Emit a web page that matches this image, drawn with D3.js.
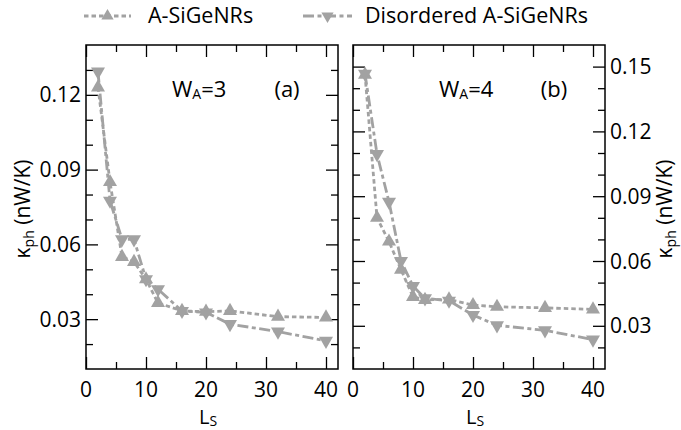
<!DOCTYPE html>
<html><head><meta charset="utf-8">
<script src="https://cdn.jsdelivr.net/npm/d3@7"></script>
<style>body{margin:0;background:#fff}text{font-family:"Open Sans",sans-serif;fill:#000}</style>
</head><body><svg id="c" width="681" height="430"></svg>
<script>
const Ls = [2,4,6,8,10,12,16,20,24,32,40];
const ordA = [0.123,0.085,0.055,0.053,0.046,0.0365,0.0333,0.033,0.0333,0.031,0.0307];
const disA = [0.1293,0.0775,0.062,0.062,0.046,0.042,0.0333,0.0327,0.028,0.025,0.0213];
const ordB = [0.1463,0.080,0.069,0.056,0.0434,0.042,0.0422,0.0396,0.0388,0.0383,0.0376];
const disB = [0.1467,0.1095,0.0874,0.060,0.0484,0.0427,0.0416,0.035,0.0302,0.0279,0.0236];
const xMajor = [0,10,20,30,40], xMinor = [5,15,25,35];
const yMajorA = [0.03,0.06,0.09,0.12], yMinorA = [0.02,0.04,0.05,0.07,0.08,0.10,0.11,0.13];
const yMajorB = [0.03,0.06,0.09,0.12,0.15], yMinorB = [0.02,0.04,0.05,0.07,0.08,0.10,0.11,0.13,0.14];
const seriesNames = ["A-SiGeNRs","Disordered A-SiGeNRs"];

(function(){
const svg = d3.select("#c");
const col = "#a2a2a2";
const dashes = ["4.5,3","11,3.5,4,3.5"];
const yTop = 45, yBot = 369;
const FS = 21;

function panel(x0, x1, yDom, yMaj, yMin, ord, dis, wlabel, plabel, labelSide){
  const x = d3.scaleLinear().domain([0,42]).range([x0,x1]);
  const y = d3.scaleLinear().domain(yDom).range([yBot, yTop]);
  const g = svg.append("g");
  const fmt = d3.format(".2f");
  const ax = (axis, tr, vals, len) => {
    const a = g.append("g").attr("transform", tr)
      .call(axis.tickValues(vals).tickSize(len).tickFormat(""));
    a.select(".domain").remove();
    a.selectAll("line").attr("stroke","#000").attr("stroke-width",1.3);
    return a;
  };
  ax(d3.axisBottom(x), `translate(0,${yBot})`, xMajor, -12);
  ax(d3.axisBottom(x), `translate(0,${yBot})`, xMinor, -7);
  ax(d3.axisTop(x), `translate(0,${yTop})`, xMajor, -12);
  ax(d3.axisTop(x), `translate(0,${yTop})`, xMinor, -7);
  ax(d3.axisLeft(y), `translate(${x0},0)`, yMaj, -12);
  ax(d3.axisLeft(y), `translate(${x0},0)`, yMin, -7);
  ax(d3.axisRight(y), `translate(${x1},0)`, yMaj, -12);
  ax(d3.axisRight(y), `translate(${x1},0)`, yMin, -7);
  g.selectAll(".xl").data(xMajor).enter().append("text")
    .attr("x", d=>x(d)).attr("y", yBot+28).attr("text-anchor","middle")
    .style("font-size",FS+"px").text(d=>d);
  const lx = labelSide==="left" ? x0-5 : x1+5;
  g.selectAll(".yl").data(yMaj).enter().append("text")
    .attr("x", lx).attr("y", d=>y(d)+7.5).attr("text-anchor", labelSide==="left"?"end":"start")
    .style("font-size",FS+"px").text(d=>fmt(d));
  g.append("rect").attr("x",x0).attr("y",yTop).attr("width",x1-x0).attr("height",yBot-yTop)
    .attr("fill","none").attr("stroke","#000").attr("stroke-width",1.5);
  const xl = g.append("text").attr("x",(x0+x1)/2 - 4).attr("y",424).attr("text-anchor","middle").style("font-size","20px");
  xl.append("tspan").text("L");
  xl.append("tspan").attr("dy",2).style("font-size","14px").text("S");
  const yx = labelSide==="left" ? 30 : 672;
  const yl = g.append("text").attr("transform",`translate(${yx},209) rotate(-90)`).attr("text-anchor","middle").style("font-size","21px");
  yl.append("tspan").text("κ");
  yl.append("tspan").attr("dy",4).style("font-size","14px").text("ph");
  yl.append("tspan").attr("dy",-4).text(" (nW/K)");
  const wt = g.append("text").attr("x", x0+86).attr("y", 97).style("font-size","22px");
  wt.append("tspan").text("W");
  wt.append("tspan").attr("dy",2).style("font-size","14px").text("A");
  wt.append("tspan").attr("dy",-2).text("="+wlabel);
  g.append("text").attr("x", x0+201).attr("y",97).attr("text-anchor","middle").style("font-size","22px").text(plabel);
  const line = d3.line().x((d,i)=>x(Ls[i])).y(d=>y(d));
  [ord, dis].forEach((vals, k) => {
    g.append("path").attr("d", line(vals)).attr("fill","none").attr("stroke",col)
      .attr("stroke-width",2.8).attr("stroke-dasharray",dashes[k]);
    g.selectAll(null).data(vals).enter().append("path")
      .attr("d", d3.symbol().type(d3.symbolTriangle).size(85))
      .attr("transform",(d,i)=>`translate(${x(Ls[i])},${y(d)}) rotate(${k?180:0})`)
      .attr("fill",col);
  });
}
panel(86, 338, [0.01,0.14], yMajorA, yMinorA, ordA, disA, "3", "(a)", "left");
panel(353, 605, [0.01,0.16], yMajorB, yMinorB, ordB, disB, "4", "(b)", "right");

const leg = [{x1:84,x2:131,tx:148},{x1:303,x2:352,tx:365}];
leg.forEach((l,k)=>{
  svg.append("line").attr("x1",l.x1).attr("x2",l.x2).attr("y1",16).attr("y2",16)
    .attr("stroke",col).attr("stroke-width",2.8).attr("stroke-dasharray",dashes[k]);
  svg.append("path").attr("d", d3.symbol().type(d3.symbolTriangle).size(65))
    .attr("transform",`translate(${(l.x1+l.x2)/2},16) rotate(${k?180:0})`).attr("fill",col);
  svg.append("text").attr("x",l.tx).attr("y",23).style("font-size","21.5px").text(seriesNames[k]);
});
})();
</script></body></html>
